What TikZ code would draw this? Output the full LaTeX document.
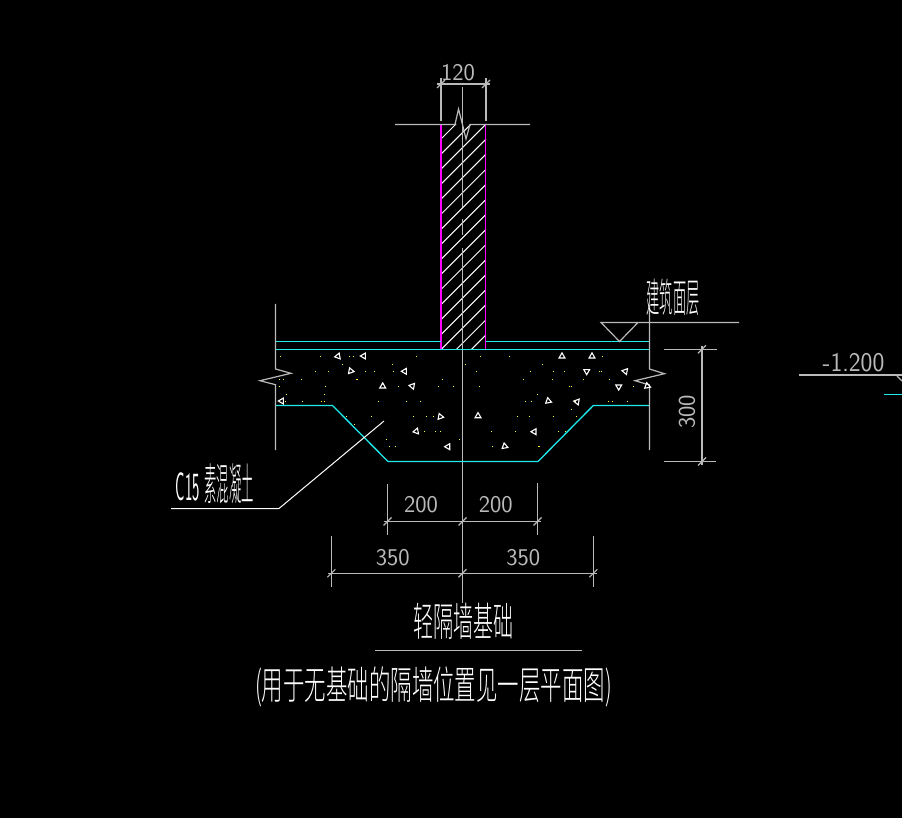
\documentclass[tikz,border=0pt]{standalone}
\usepackage{fontspec}
\newfontfamily\cjk[UprightFont={* Light}]{Noto Sans CJK SC}
\usetikzlibrary{calc}
\definecolor{cadgray}{RGB}{185,185,185}
\definecolor{cadcyan}{RGB}{30,235,235}
\definecolor{cadpink}{RGB}{255,0,255}
\definecolor{caddot}{RGB}{255,255,60}
\tikzset{
  dimline/.style={cadgray,line width=1.2pt},
  floorline/.style={cadcyan,line width=1.3pt},
  wallline/.style={cadpink,line width=1.4pt},
  whiteline/.style={white,line width=1pt},
  aggr/.style={white,line width=1.1pt},
  numtext/.style={text=cadgray,inner sep=0pt,font=\sffamily\fontsize{24}{24}\selectfont},
  cjktext/.style={text=white,inner sep=0pt}
}
\newcommand{\dimtick}[1]{\draw[dimline] (#1) +(-4,4) -- +(4,-4);}
\newcommand{\cadcjk}[3]{\scalebox{#1}[1]{\fontsize{#2}{#2}\selectfont\cjk #3}}

\begin{document}
\begin{tikzpicture}[x=1pt,y=-1pt]
    \fill[black] (0,0) rectangle (902,818);
    \useasboundingbox (0,0) rectangle (902,818);
    % Hachures du mur
    \begin{scope}
      \clip (441,124.5) rectangle (486,349);
      \foreach \s in {0,...,17}
        \draw[whiteline] (441,{580+15.05*\s-441}) -- (486,{580+15.05*\s-486});
    \end{scope}
    % Mur
    \draw[wallline] (441,124.5) -- (441,349);
    \draw[wallline] (485.5,124.5) -- (485.5,349);
    % Ligne de rupture en haut
    \draw[dimline] (395,124.5) -- (455,124.5) -- (458.5,109) -- (462.5,124.5) -- (466,139) -- (470,124.5) -- (530,124.5);
    % Axe
    \draw[dimline] (462.5,87) -- (462.5,207);
    \draw[dimline] (462.5,219) -- (462.5,235);
    \draw[dimline] (462.5,248) -- (462.5,603);
    % Sol et fondation
    \draw[floorline] (275.5,341.7) -- (441,341.7);
    \draw[floorline] (485.5,341.7) -- (649.5,341.7);
    \draw[floorline] (275.5,349.3) -- (649.5,349.3);
    \draw[floorline] (275.5,405.5) -- (332.5,405.5) -- (388,461.5) -- (538,461.5) -- (593.3,405.5) -- (649.5,405.5);
    % Bords coupes
    \draw[dimline] (275.5,304) -- (275.5,369) -- (291,373.3) -- (260,380.7) -- (275.5,384.7) -- (275.5,450);
    \draw[dimline] (649.5,305) -- (649.5,369) -- (664.5,373.7) -- (635,380.7) -- (649.5,385) -- (649.5,450);
    % Beton
    \foreach \x/\y in {61/199,181/199,268/199,280/199,469/199,397/223,247/223,616/223,166/244,205/244,316/244,343/244,400/244,58/268,70/268,124/268,290/268,293/268,547/268,58/289,196/289,415/289,535/289,580/289,79/313,193/313,76/334,127/334,184/334,193/334,355/334,439/334,481/334,259/379,334/379,460/379,499/379,520/379,283/403,493/424,526/424,541/424,379/448,598/448,388/469,406/469}
      \fill[caddot] ({260+\x/3-.6},{290+\y/3-.6}) rectangle +(1.2,1.2);
    \foreach \x/\y in {61/229,148/229,427/229,16/253,247/253,49/274,211/274,280/274,313/274,418/274,424/274,190/298,277/298,370/298,448/298,58/319,328/319,334/319,520/319,232/343,196/364,214/364,345/364,445/364,457/364,502/364,334/388,172/409,208/409,280/409,349/409,94/454,166/454,295/454,316/454,97/499,235/499,238/499}
      \fill[caddot] ({460+\x/3-.6},{280+\y/3-.6}) rectangle +(1.2,1.2);
    \foreach \x/\y/\r in {338/356.3/170,363.7/356/-60,350.7/371/130,404.7/371.3/180,382.7/386.3/-90,412.3/386/190,281.7/401/180,440.3/416.7/130,416.3/431.3/-70,448/446.7/60,562/356.3/150,592/356.3/30,586.7/371.3/-30,625.3/371.3/-50,618.7/386.7/90,647.3/386/140,548.3/401/-100,577/401.7/-50,478/416/-90,534.3/431.7/-60,504.7/446.3/20}
      \draw[aggr] (\x,\y) +(\r:3.4) -- +(\r+120:3.4) -- +(\r+240:3.4) -- cycle;
    % Cote 120
    \draw[dimline] (441,78) -- (441,121);
    \draw[dimline] (486,78) -- (486,121);
    \draw[dimline] (437,84) -- (490,84);
    \dimtick{441,84}
    \dimtick{486,84}
    \node[numtext] (dimwall) at (458,72.5) {120};
    % Cote 300
    \draw[dimline] (664,349.3) -- (717,349.3);
    \draw[dimline] (664,461.5) -- (716,461.5);
    \draw[dimline] (702,346) -- (702,465);
    \dimtick{702,349.3}
    \dimtick{702,461.5}
    \node[numtext,rotate=90] (dimdepth) at (687,412) {300};
    % Cotes 200
    \draw[dimline] (387.5,484) -- (387.5,535);
    \draw[dimline] (537.5,483) -- (537.5,535);
    \draw[dimline] (384,521.5) -- (541,521.5);
    \dimtick{387.5,521.5}
    \dimtick{462.5,521.5}
    \dimtick{537.5,521.5}
    \node[numtext] (dimbaseleft) at (421,505) {200};
    \node[numtext] (dimbaseright) at (495.7,505) {200};
    % Cotes 350
    \draw[dimline] (331.3,536) -- (331.3,587);
    \draw[dimline] (593.3,536) -- (593.3,587);
    \draw[dimline] (328,573.3) -- (597,573.3);
    \dimtick{331.3,573.3}
    \dimtick{462.5,573.3}
    \dimtick{593.3,573.3}
    \node[numtext] (dimtotalleft) at (392.7,557.7) {350};
    \node[numtext] (dimtotalright) at (523.3,557.7) {350};
    % Niveau du sol fini
    \draw[dimline] (739,322.5) -- (601,322.5) -- (619.5,341.5) -- (638,322.5);
    \node[cjktext] (finish) at (673,297) {\cadcjk{.33}{40}{建筑面层}};
    % Repere beton
    \draw[whiteline] (171,508.5) -- (279,508.5) -- (384,421);
    \node[text=white,inner sep=0pt,font=\sffamily\fontsize{40}{40}\selectfont] (concgrade) at (188,487) {\scalebox{.39}[1]{C15}};
    \node[cjktext] (concname) at (229,484) {\cadcjk{.28}{44}{素混凝土}};
    % Titre
    \node[cjktext] (title) at (463.5,621) {\cadcjk{.5}{40}{轻隔墙基础}};
    \draw[dimline] (375,650.3) -- (582,650.3);
    \node[cjktext] (subtitle) at (433.5,687) {\cadcjk{.55}{39}{(用于无基础的隔墙位置见一层平面图)}};
    % Niveau -1.200
    \draw[dimline] (799,375) -- (902,375);
    \draw[dimline] (897,376) -- (902,381);
    \draw[floorline] (884,394.5) -- (902,394.5);
    \node[numtext,font=\sffamily\fontsize{27}{27}\selectfont] (levelmark) at (853.5,362.5) {\scalebox{.93}[1]{-1.200}};
\end{tikzpicture}
\end{document}
